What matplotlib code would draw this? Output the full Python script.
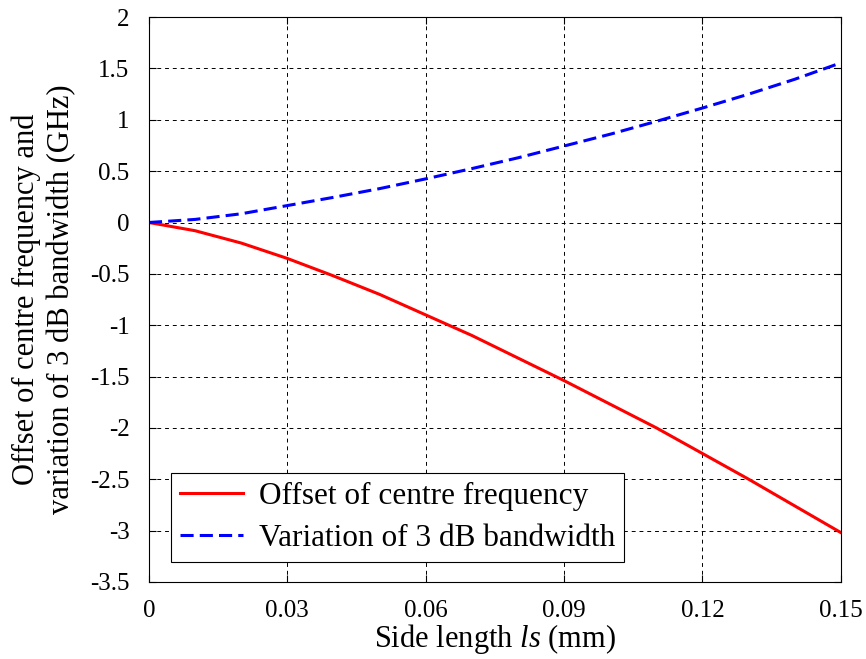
import numpy as np
import matplotlib
matplotlib.use('Agg')
import matplotlib.pyplot as plt

plt.rcParams['font.family'] = 'Liberation Serif'
plt.rcParams['mathtext.fontset'] = 'custom'
plt.rcParams['mathtext.rm'] = 'Liberation Serif'
plt.rcParams['mathtext.it'] = 'Liberation Serif:italic'
plt.rcParams['axes.unicode_minus'] = False

# Data
side_length = [0.0, 0.01, 0.02, 0.03, 0.04, 0.05, 0.06, 0.07,
               0.08, 0.09, 0.10, 0.11, 0.12, 0.13, 0.14, 0.15]
centre_offset = [0.0, -0.08, -0.20, -0.35, -0.52, -0.70, -0.90, -1.10,
                 -1.32, -1.54, -1.77, -2.00, -2.25, -2.50, -2.76, -3.02]
bw_variation = [0.0, 0.03, 0.085, 0.165, 0.245, 0.33, 0.425, 0.525,
                0.63, 0.745, 0.86, 0.985, 1.115, 1.25, 1.395, 1.555]

xticks = [0, 0.03, 0.06, 0.09, 0.12, 0.15]
xticklabels = ['0', '0.03', '0.06', '0.09', '0.12', '0.15']
yticks = np.arange(-3.5, 2.01, 0.5)

fig = plt.figure(figsize=(8.66, 6.59), dpi=100)
ax = fig.add_axes([0.172, 0.117, 0.799, 0.857])

ax.plot(side_length, centre_offset, color='red', lw=2.2, label='Offset of centre frequency')
ax.plot(side_length, bw_variation, color='blue', lw=2.2, ls=(0, (4.3, 2)),
        label='Variation of 3 dB bandwidth')

ax.set_xlim(0, 0.15)
ax.set_ylim(-3.5, 2)
ax.set_xticks(xticks)
ax.set_xticklabels(xticklabels)
ax.set_yticks(yticks)
ax.set_yticklabels(['%g' % v for v in yticks])
ax.tick_params(direction='in', top=True, right=True, labelsize=18, length=5)
ax.tick_params(axis='x', pad=13)
ax.tick_params(axis='y', pad=14)
ax.grid(True, color='black', ls=(0, (4, 4)), lw=0.7)

ax.set_xlabel('Side length $\\it{ls}$ (mm)', fontsize=22, labelpad=0)
ax.set_ylabel('Offset of centre frequency and\nvariation of 3 dB bandwidth (GHz)',
              fontsize=22, linespacing=1.25)
ax.yaxis.set_label_coords(-0.105, 0.5)

leg = ax.legend(loc='lower left', fontsize=22.5, fancybox=False, framealpha=1,
                edgecolor='black', handlelength=2.0, borderpad=0.3,
                labelspacing=0.4, handletextpad=0.5, borderaxespad=0,
                bbox_to_anchor=(0.032, 0.035))
leg.get_frame().set_linewidth(0.8)

plt.savefig('out.png')
